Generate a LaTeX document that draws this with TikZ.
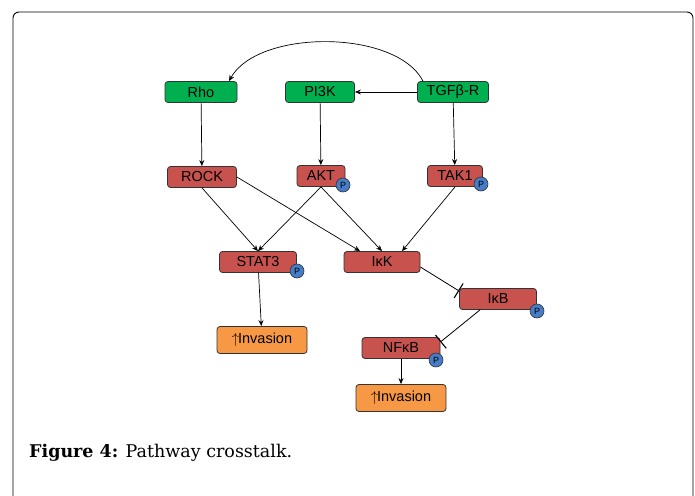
\documentclass[tikz,border=0pt]{standalone}
\usepackage{fontspec}
\setmainfont{DejaVu Serif}
\setsansfont{Liberation Sans}
\usetikzlibrary{arrows.meta}
\definecolor{kinasegreen}{RGB}{0,176,80}
\definecolor{kinasered}{RGB}{200,82,78}
\definecolor{outorange}{RGB}{247,153,68}
\definecolor{phosblue}{RGB}{70,125,200}
\tikzset{
  mol/.style={draw=black!80, line width=0.8pt, rounded corners=3pt, minimum height=21pt,
    inner sep=0pt, font=\sffamily\fontsize{14.5}{14.5}\selectfont},
  receptor/.style={mol, fill=kinasegreen},
  kinase/.style={mol, fill=kinasered},
  outcome/.style={mol, fill=outorange, minimum height=27pt, minimum width=90pt},
  pbadge/.style={circle, draw=black!80, line width=0.6pt, fill=phosblue, minimum size=14pt,
    inner sep=0pt, font=\sffamily\fontsize{9}{9}\selectfont},
  act/.style={-{Stealth[length=6pt,width=5pt]}, line width=0.7pt},
  inhib/.style={-{Bar[width=17pt,line width=1.1pt]}, line width=0.8pt}
}
\newcommand{\up}{$\uparrow$\kern-1pt}
\begin{document}
\begin{tikzpicture}[x=1pt,y=-1pt]
  \useasboundingbox (0,0) rectangle (695,495);
  \draw[line width=0.9pt, rounded corners=6pt] (13,520) -- (13,12) -- (693,12) -- (693,520);
  % receptors
  \node[receptor, minimum width=72pt] (rho) at (201,92) {Rho};
  \node[receptor, minimum width=69pt] (pi3k) at (320,92) {PI3K};
  \node[receptor, minimum width=71pt] (tgfbr) at (453,92) {TGFβ-R};
  % kinases
  \node[kinase, minimum width=69pt] (rock) at (202,177) {ROCK};
  \node[kinase, minimum width=48pt] (akt) at (321,176) {AKT};
  \node[kinase, minimum width=55pt] (tak1) at (455,176) {TAK1};
  \node[kinase, minimum width=77pt] (stat3) at (258,262) {STAT3};
  \node[kinase, minimum width=76pt] (ikk) at (382,262) {IκK};
  \node[kinase, minimum width=77pt] (ikb) at (498,299) {IκB};
  \node[kinase, minimum width=78pt] (nfkb) at (401,348) {NFκB};
  % outcomes
  \node[outcome] (inv1) at (262,340) {\up Invasion};
  \node[outcome] (inv2) at (401,398) {\up Invasion};
  % phosphates
  \node[pbadge] (aktp) at (343,185) {P};
  \node[pbadge] (tak1p) at (481,184) {P};
  \node[pbadge] (stat3p) at (297,271) {P};
  \node[pbadge] (ikbp) at (537,311) {P};
  \node[pbadge] (nfkbp) at (436,360) {P};
  % edges
  \draw[act] ([xshift=-30pt]tgfbr.north) .. controls (396,29) and (258,29) .. ([xshift=28pt]rho.north);
  \draw[act] (tgfbr) -- (pi3k);
  \draw[act] (rho) -- (rock);
  \draw[act] (pi3k) -- (akt);
  \draw[act] (tgfbr) -- (tak1);
  \draw[act] (rock.south) -- (stat3.north);
  \draw[act] (akt.south) -- (stat3.north);
  \draw[act] (rock.east) -- ([xshift=-22pt]ikk.north);
  \draw[act] (akt.south) -- (ikk.north);
  \draw[act] (tak1.south) -- ([xshift=20pt]ikk.north);
  \draw[act] (stat3) -- (inv1);
  \draw[inhib] ([yshift=-5pt]ikk.east) -- ([yshift=8pt]ikb.west);
  \draw[inhib] ([xshift=-18pt]ikb.south) -- ([yshift=6pt]nfkb.east);
  \draw[act] (nfkb) -- (inv2);
  % caption
  \node[anchor=base west, inner sep=0pt, font=\fontsize{17.5}{17.5}\selectfont] (cap) at (29,457)
    {\textbf{Figure 4:} Pathway crosstalk.};
\end{tikzpicture}
\end{document}
